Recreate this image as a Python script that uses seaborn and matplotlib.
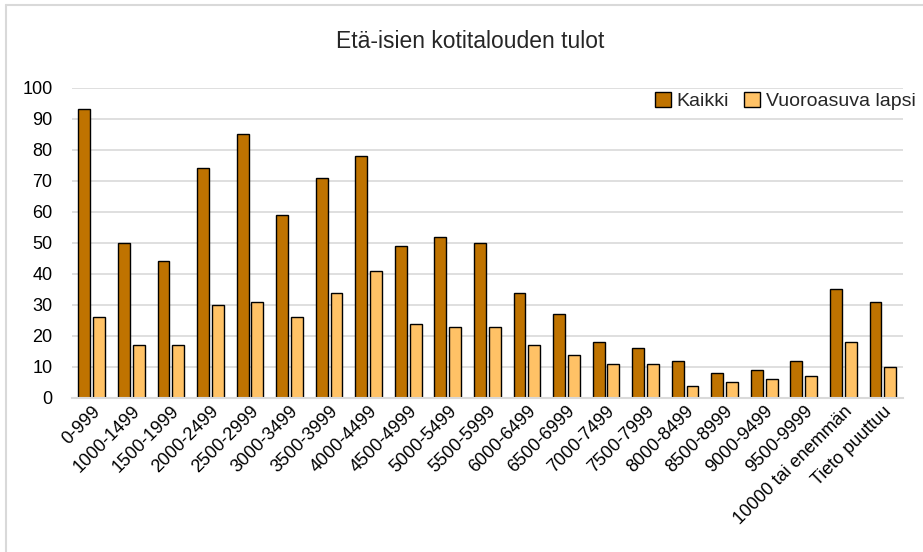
import matplotlib
matplotlib.use("Agg")
import matplotlib.pyplot as plt
import seaborn as sns
import pandas as pd

categories = ["0-999", "1000-1499", "1500-1999", "2000-2499", "2500-2999", "3000-3499",
              "3500-3999", "4000-4499", "4500-4999", "5000-5499", "5500-5999", "6000-6499",
              "6500-6999", "7000-7499", "7500-7999", "8000-8499", "8500-8999", "9000-9499",
              "9500-9999", "10000 tai enemmän", "Tieto puuttuu"]
kaikki = [93, 50, 44, 74, 85, 59, 71, 78, 49, 52, 50, 34, 27, 18, 16, 12, 8, 9, 12, 35, 31]
vuoroasuva = [26, 17, 17, 30, 31, 26, 34, 41, 24, 23, 23, 17, 14, 11, 11, 4, 5, 6, 7, 18, 10]
series = ["Kaikki", "Vuoroasuva lapsi"]
colors = ["#BF7300", "#FFC266"]

df = pd.DataFrame({
    "Tulot": categories * 2,
    "Sarja": [series[0]] * len(categories) + [series[1]] * len(categories),
    "Arvo": kaikki + vuoroasuva,
})

sns.set_theme(style="white")
plt.rcParams["font.family"] = ["Liberation Sans", "DejaVu Sans"]

fig = plt.figure(figsize=(9.23, 5.52), dpi=100)
ax = fig.add_axes([0.078, 0.279, 0.900, 0.562])

sns.barplot(data=df, x="Tulot", y="Arvo", hue="Sarja", palette=colors, saturation=1,
            width=0.75, gap=0.2, edgecolor="black", linewidth=1.0, ax=ax)

ax.set_ylim(0, 100)
ax.set_yticks(range(0, 101, 10))
ax.set_xlim(-0.5, len(categories) - 0.5)
ax.yaxis.grid(True, color="#D9D9D9", linewidth=1.2)
ax.set_axisbelow(True)
for s in ["top", "right", "left"]:
    ax.spines[s].set_visible(False)
ax.spines["bottom"].set_color("#D9D9D9")
ax.spines["bottom"].set_linewidth(1.5)
ax.tick_params(axis="both", length=0, labelsize=13, colors="black")
ax.tick_params(axis="y", pad=14)
plt.setp(ax.get_xticklabels(), rotation=45, ha="right", rotation_mode="anchor")
ax.set_xlabel("")
ax.set_ylabel("")

fig.text(0.509, 0.924, "Etä-isien kotitalouden tulot", ha="center", va="center", fontsize=16.5)

leg = ax.legend(loc="upper right", bbox_to_anchor=(1.025, 1.012), frameon=False,
                fontsize=14, handlelength=0.8, handleheight=0.8, handletextpad=0.3,
                columnspacing=0.8, ncol=2, borderaxespad=0)

# outer chart border (left and top visible)
fig.add_artist(plt.Line2D([0.006, 0.006], [0, 0.991], color="#D9D9D9", linewidth=1.5))
fig.add_artist(plt.Line2D([0.006, 1.0], [0.991, 0.991], color="#D9D9D9", linewidth=1.5))

fig.savefig("out.png", dpi=100)
plt.close(fig)
